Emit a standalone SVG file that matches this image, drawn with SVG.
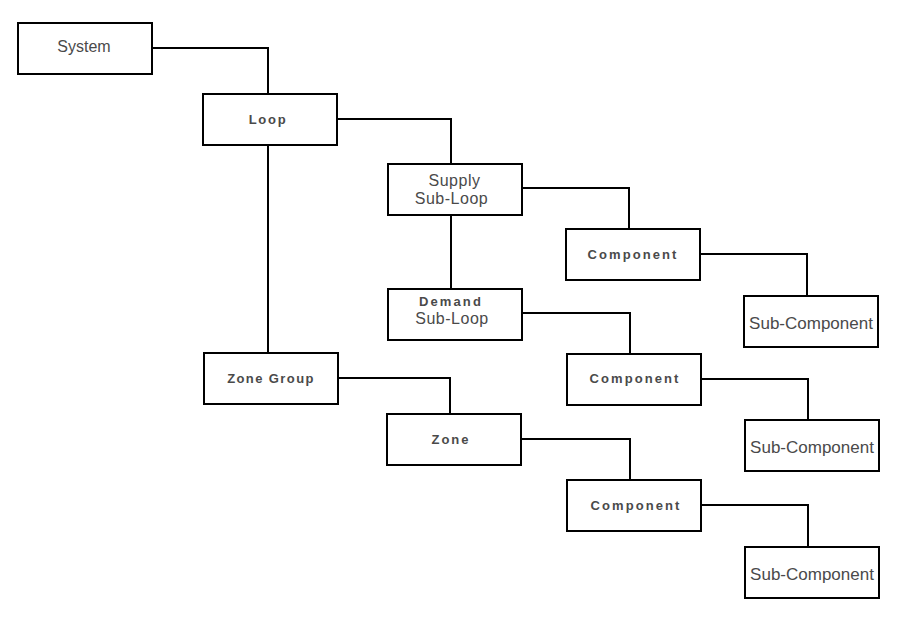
<svg xmlns="http://www.w3.org/2000/svg" width="897" height="621" viewBox="0 0 897 621">
<style>
.box{fill:#fff;stroke:#000;stroke-width:2}
.con{fill:none;stroke:#000;stroke-width:2}
text{font-family:"Liberation Sans",Arial,sans-serif;fill:#4a4a4a;text-anchor:middle}
.a{font-size:17px}
.c{font-size:16px;letter-spacing:0.5px}
.b{font-size:13px;font-weight:bold;letter-spacing:2px}
</style>
<rect width="897" height="621" fill="#fff"/>
<g id="connectors">
<polyline class="con" points="152,48 268,48 268,94"/>
<polyline class="con" points="337,119 451,119 451,164"/>
<line class="con" x1="268" y1="145" x2="268" y2="353"/>
<polyline class="con" points="522,188 629,188 629,229"/>
<line class="con" x1="451" y1="215" x2="451" y2="289"/>
<polyline class="con" points="700,254 807,254 807,296"/>
<polyline class="con" points="522,313 630,313 630,354"/>
<polyline class="con" points="701,379 808,379 808,420"/>
<polyline class="con" points="338,378 450,378 450,414"/>
<polyline class="con" points="521,439 630,439 630,480"/>
<polyline class="con" points="701,505 808,505 808,547"/>
</g>
<g id="system"><rect class="box" x="18" y="23" width="134" height="51"/><text class="a" x="84" y="52" style="font-size:16px">System</text></g>
<g id="loop"><rect class="box" x="203" y="94" width="134" height="51"/><text class="b" x="268" y="124" style="letter-spacing:1.7px">Loop</text></g>
<g id="supply"><rect class="box" x="388" y="164" width="134" height="51"/><text class="c" x="454.5" y="185.5">Supply</text><text class="c" x="451.5" y="203.5">Sub-Loop</text></g>
<g id="component1"><rect class="box" x="566" y="229" width="134" height="51"/><text class="b" x="633" y="259" style="letter-spacing:2.1px">Component</text></g>
<g id="subcomponent1"><rect class="box" x="744" y="296" width="134" height="51"/><text class="a" x="811" y="328.5">Sub-Component</text></g>
<g id="demand"><rect class="box" x="388" y="289" width="134" height="51"/><text class="b" x="451" y="306" style="letter-spacing:2.1px">Demand</text><text class="c" x="452" y="323.8">Sub-Loop</text></g>
<g id="component2"><rect class="box" x="567" y="354" width="134" height="51"/><text class="b" x="635" y="383" style="letter-spacing:2.1px">Component</text></g>
<g id="subcomponent2"><rect class="box" x="745" y="420" width="134" height="51"/><text class="a" x="812" y="452.5">Sub-Component</text></g>
<g id="zonegroup"><rect class="box" x="204" y="353" width="134" height="51"/><text class="b" x="271" y="383" style="letter-spacing:1.4px">Zone Group</text></g>
<g id="zone"><rect class="box" x="387" y="414" width="134" height="51"/><text class="b" x="451" y="444" style="letter-spacing:2px">Zone</text></g>
<g id="component3"><rect class="box" x="567" y="480" width="134" height="51"/><text class="b" x="636" y="510" style="letter-spacing:2.1px">Component</text></g>
<g id="subcomponent3"><rect class="box" x="745" y="547" width="134" height="51"/><text class="a" x="812" y="579.5">Sub-Component</text></g>
</svg>
